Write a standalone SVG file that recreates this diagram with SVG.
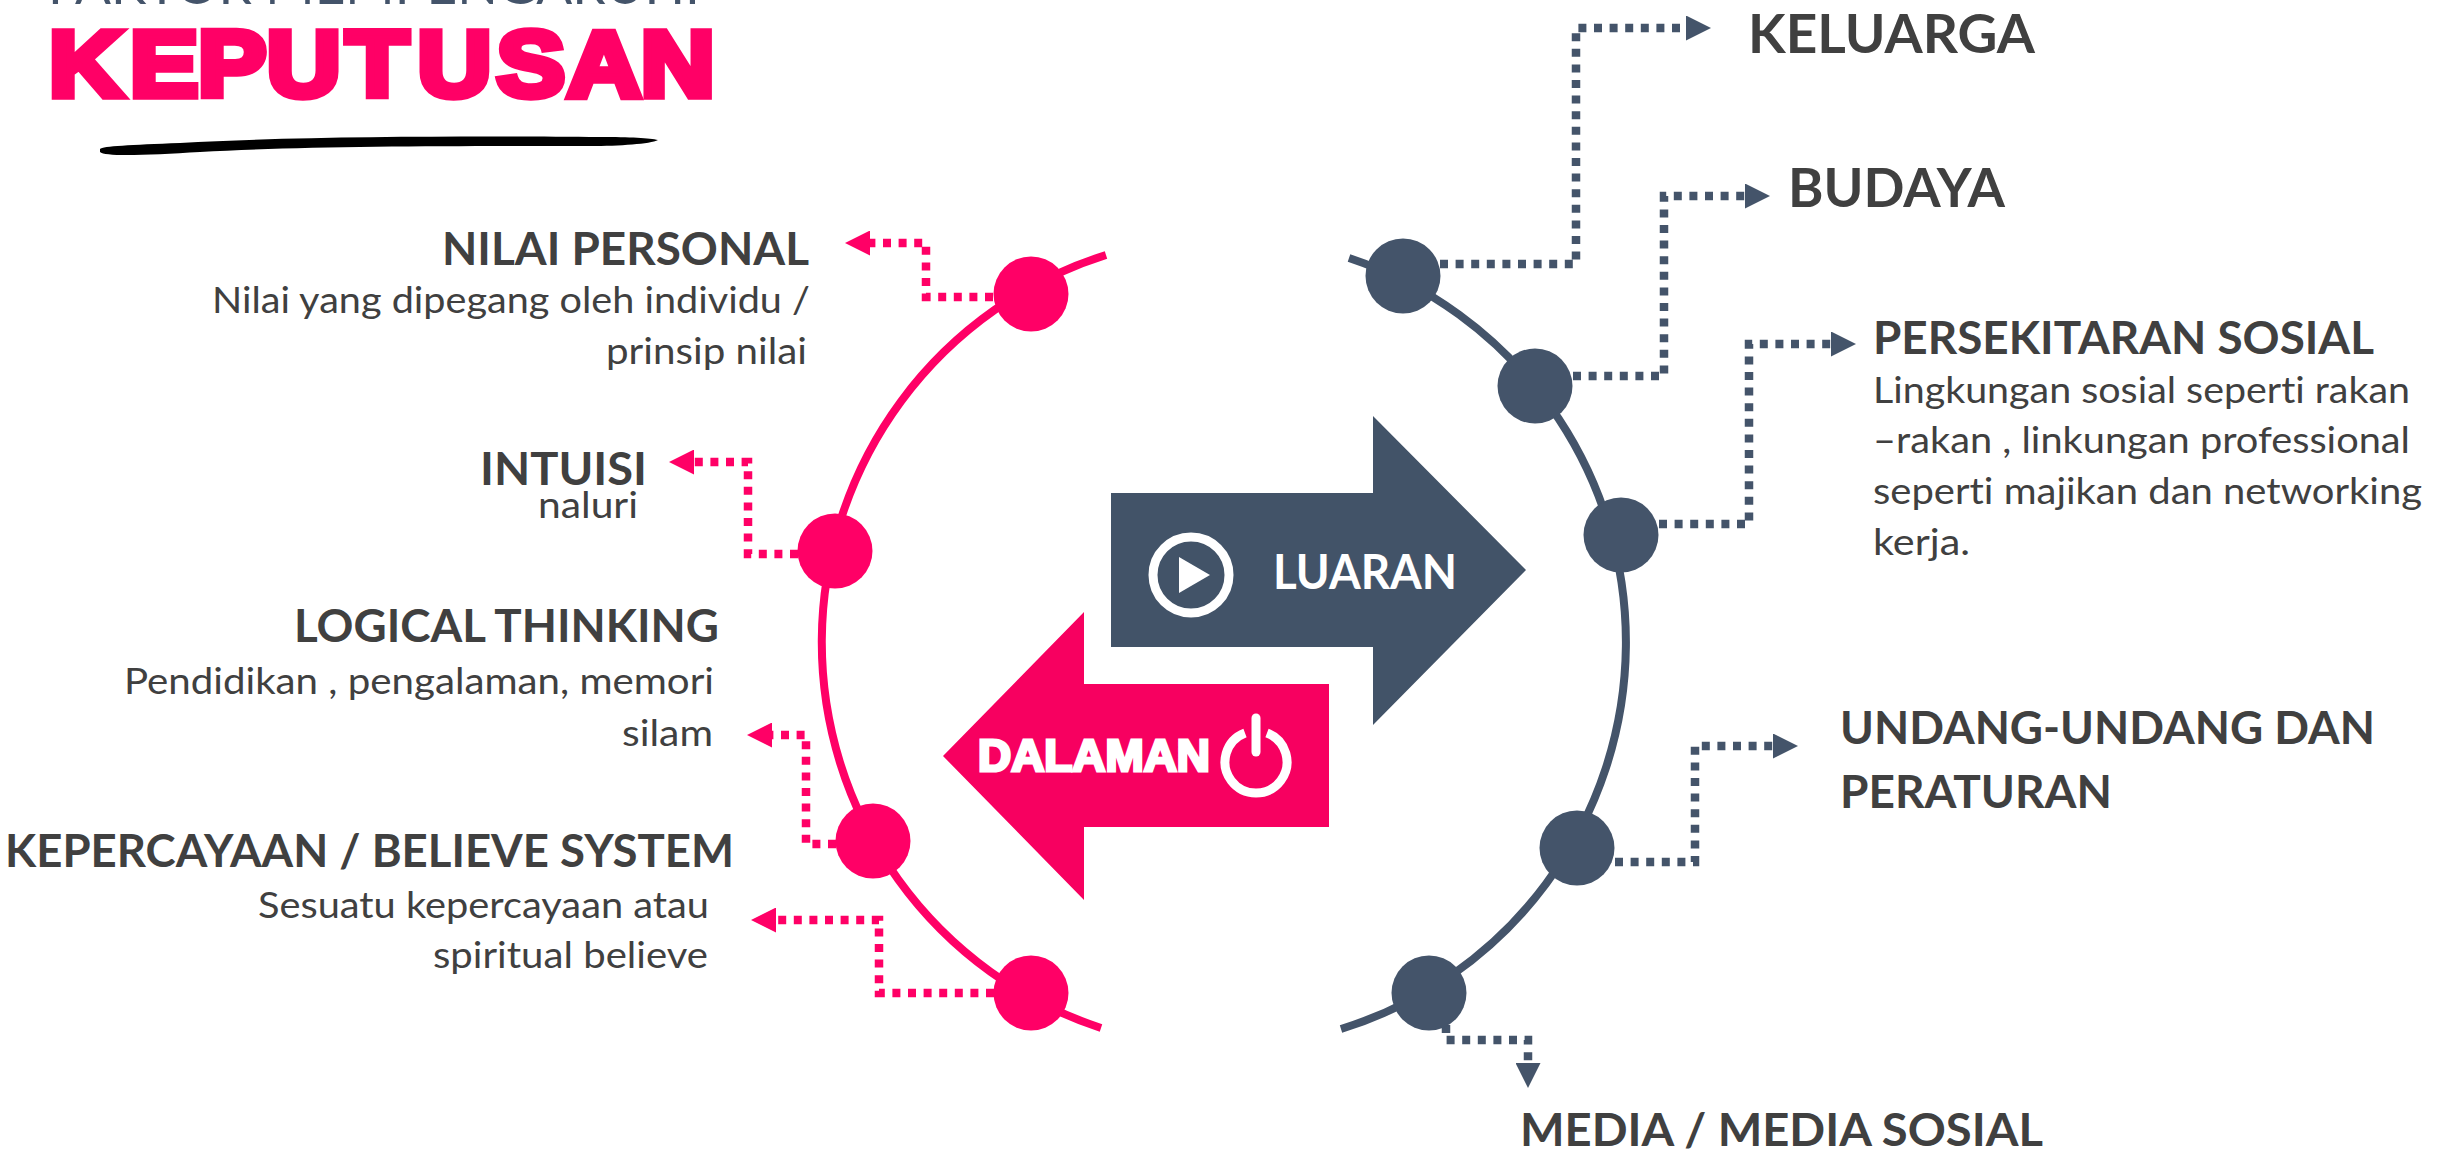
<svg xmlns="http://www.w3.org/2000/svg" width="2453" height="1154" viewBox="0 0 2453 1154">
<style>
text{font-family:"Lato","Carlito","Open Sans",sans-serif;fill:#404040;font-variant-ligatures:none}
.h{font-size:46px;font-weight:700}
.H{font-size:54px;font-weight:700}
.d{font-size:37px;font-weight:400}
.black{font-family:"Liberation Sans",Arial,sans-serif;font-weight:700;stroke-linejoin:miter}
.pk{fill:#FF0066}
.dk{fill:#44546A}
.arc{fill:none;stroke-width:8}
.c{fill:none;stroke-width:8.5;stroke-dasharray:8 7.6}
.cp{stroke:#FF0066;marker-end:url(#hp)}
.cd{stroke:#44546A;marker-end:url(#hd)}
</style>
<defs>
<marker id="hp" markerUnits="userSpaceOnUse" markerWidth="25" markerHeight="25" viewBox="0 0 25 25" refX="0" refY="12.5" orient="auto"><path d="M0 0L25 12.5L0 25z" fill="#FF0066"/></marker>
<marker id="hd" markerUnits="userSpaceOnUse" markerWidth="25" markerHeight="25" viewBox="0 0 25 25" refX="0" refY="12.5" orient="auto"><path d="M0 0L25 12.5L0 25z" fill="#44546A"/></marker>
</defs>
<rect width="2453" height="1154" fill="#fff"/>
<g id="title">
<text x="48" y="4" font-size="52" textLength="652" lengthAdjust="spacingAndGlyphs" style="fill:#44546A">FAKTOR MEMPENGARUHI</text>
<text class="black" transform="translate(49 96) scale(1.1 1)" x="0 73.6 135.5 198 270 335 407 471 538" y="0" font-size="93" style="fill:#FF0066;stroke:#FF0066;stroke-width:7.5">KEPUTUSAN</text>
<path d="M100 149C103 146 130 145 180 143C300 136 480 136 600 137C630 137 650 138 658 140C650 144 620 146 590 146C450 146 300 146 200 152C150 155 105 157 100 152Z" fill="#000"/>
</g>
<g id="connectors">
<path class="c cp" d="M993 297H926V243H870"/>
<path class="c cp" d="M798 554H748V462H694"/>
<path class="c cp" d="M836 844H806V735H772"/>
<path class="c cp" d="M994 993H879V920H776"/>
<path class="c cd" d="M1440 264H1576V28H1686"/>
<path class="c cd" d="M1573 376H1664V196H1745"/>
<path class="c cd" d="M1659 524H1749V344H1831"/>
<path class="c cd" d="M1615 862H1695V746H1773"/>
<path class="c cd" d="M1446 1025V1040H1528V1063"/>
</g>
<g id="rings">
<path class="arc" stroke="#FF0066" d="M1106 255A406 406 0 0 0 1101 1028"/>
<path class="arc" stroke="#44546A" d="M1349 258A405 405 0 0 1 1341 1029"/>
</g>
<g id="arrow-luaran">
<path d="M1111 493H1373V416L1526 570L1373 725V647H1111Z" fill="#425368"/>
<circle cx="1191" cy="575" r="38" fill="none" stroke="#fff" stroke-width="9"/>
<path d="M1179 557L1210 575L1179 593Z" fill="#fff"/>
<text x="1273" y="589" font-size="47" font-weight="700" textLength="184" lengthAdjust="spacingAndGlyphs" style="fill:#fff">LUARAN</text>
</g>
<g id="arrow-dalaman">
<path d="M943 756L1084 612V684H1329V827H1084V900Z" fill="#F70060"/>
<text class="black" x="978" y="771" font-size="44" textLength="232" lengthAdjust="spacingAndGlyphs" style="fill:#fff;stroke:#fff;stroke-width:3">DALAMAN</text>
<path d="M1245 733A31 31 0 1 0 1267 733" fill="none" stroke="#fff" stroke-width="9"/>
<path d="M1256 718V752" fill="none" stroke="#fff" stroke-width="9" stroke-linecap="round"/>
</g>
<g id="node-nilai-personal">
<circle class="pk" cx="1031" cy="294" r="37.5"/>
<text class="h" x="442" y="265" textLength="367" lengthAdjust="spacingAndGlyphs">NILAI PERSONAL</text>
<text class="d" x="212" y="313" textLength="598" lengthAdjust="spacingAndGlyphs">Nilai yang dipegang oleh individu /</text>
<text class="d" x="606" y="364" textLength="201" lengthAdjust="spacingAndGlyphs">prinsip nilai</text>
</g>
<g id="node-intuisi">
<circle class="pk" cx="835" cy="551" r="37.5"/>
<text class="h" x="480" y="485" textLength="167" lengthAdjust="spacingAndGlyphs">INTUISI</text>
<text class="d" x="538" y="518" textLength="100" lengthAdjust="spacingAndGlyphs">naluri</text>
</g>
<g id="node-logical-thinking">
<circle class="pk" cx="873" cy="841" r="37.5"/>
<text class="h" x="294" y="642" textLength="425" lengthAdjust="spacingAndGlyphs">LOGICAL THINKING</text>
<text class="d" x="124" y="694" textLength="590" lengthAdjust="spacingAndGlyphs">Pendidikan , pengalaman, memori</text>
<text class="d" x="622" y="746" textLength="91" lengthAdjust="spacingAndGlyphs">silam</text>
</g>
<g id="node-kepercayaan">
<circle class="pk" cx="1031" cy="993" r="37.5"/>
<text class="h" x="5" y="867" textLength="729" lengthAdjust="spacingAndGlyphs">KEPERCAYAAN / BELIEVE SYSTEM</text>
<text class="d" x="258" y="918" textLength="451" lengthAdjust="spacingAndGlyphs">Sesuatu kepercayaan atau</text>
<text class="d" x="433" y="968" textLength="275" lengthAdjust="spacingAndGlyphs">spiritual believe</text>
</g>
<g id="node-keluarga">
<circle class="dk" cx="1403" cy="276" r="37.5"/>
<text class="H" x="1748" y="53" textLength="287" lengthAdjust="spacingAndGlyphs">KELUARGA</text>
</g>
<g id="node-budaya">
<circle class="dk" cx="1535" cy="386" r="37.5"/>
<text class="H" x="1788" y="207" textLength="217" lengthAdjust="spacingAndGlyphs">BUDAYA</text>
</g>
<g id="node-persekitaran-sosial">
<circle class="dk" cx="1621" cy="535" r="37.5"/>
<text class="h" x="1873" y="354" textLength="501" lengthAdjust="spacingAndGlyphs">PERSEKITARAN SOSIAL</text>
<text class="d" x="1873" y="403" textLength="537" lengthAdjust="spacingAndGlyphs">Lingkungan sosial seperti rakan</text>
<text class="d" x="1873" y="453" textLength="537" lengthAdjust="spacingAndGlyphs">–rakan , linkungan professional</text>
<text class="d" x="1873" y="504" textLength="549" lengthAdjust="spacingAndGlyphs">seperti majikan dan networking</text>
<text class="d" x="1873" y="555" textLength="97" lengthAdjust="spacingAndGlyphs">kerja.</text>
</g>
<g id="node-undang-undang">
<circle class="dk" cx="1577" cy="848" r="37.5"/>
<text class="h" x="1840" y="744" textLength="535" lengthAdjust="spacingAndGlyphs">UNDANG-UNDANG DAN</text>
<text class="h" x="1840" y="808" textLength="272" lengthAdjust="spacingAndGlyphs">PERATURAN</text>
</g>
<g id="node-media">
<circle class="dk" cx="1429" cy="993" r="37.5"/>
<text class="h" x="1520" y="1146" textLength="523" lengthAdjust="spacingAndGlyphs">MEDIA / MEDIA SOSIAL</text>
</g>
</svg>
